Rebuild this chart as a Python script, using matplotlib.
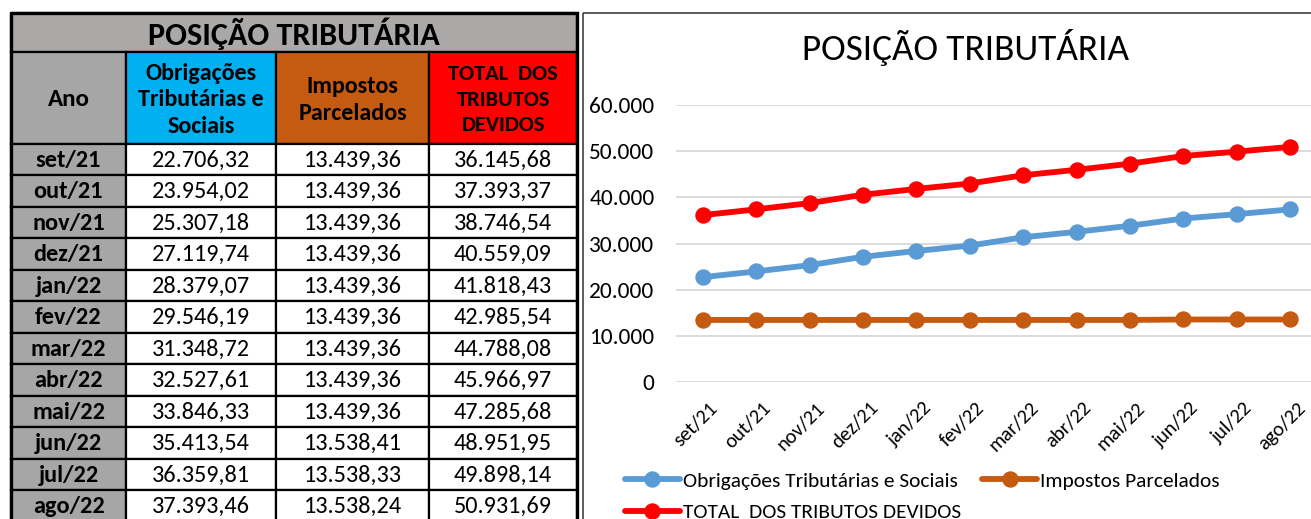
import matplotlib

matplotlib.use("Agg")
import matplotlib.pyplot as plt
from matplotlib import font_manager
from matplotlib.patches import Rectangle
from matplotlib.transforms import ScaledTranslation

MESES = ["set/21", "out/21", "nov/21", "dez/21", "jan/22", "fev/22",
         "mar/22", "abr/22", "mai/22", "jun/22", "jul/22", "ago/22"]
OBRIGACOES = [22706.32, 23954.02, 25307.18, 27119.74, 28379.07, 29546.19,
              31348.72, 32527.61, 33846.33, 35413.54, 36359.81, 37393.46]
PARCELADOS = [13439.36, 13439.36, 13439.36, 13439.36, 13439.36, 13439.36,
              13439.36, 13439.36, 13439.36, 13538.41, 13538.33, 13538.24]
TOTAL = [36145.68, 37393.37, 38746.54, 40559.09, 41818.43, 42985.54,
         44788.08, 45966.97, 47285.68, 48951.95, 49898.14, 50931.69]
Y_TICKS = [0, 10000, 20000, 30000, 40000, 50000, 60000]

TITULO = "POSIÇÃO TRIBUTÁRIA"
CABECALHO = ["Ano", "Obrigações\nTributárias e\nSociais", "Impostos\nParcelados",
             "TOTAL  DOS\nTRIBUTOS\nDEVIDOS"]
LEGENDA = ["Obrigações Tributárias e Sociais", "Impostos Parcelados",
           "TOTAL  DOS TRIBUTOS DEVIDOS"]

# Calibri-like font if there is one, otherwise Lato with smaller sizes
names = {f.name for f in font_manager.fontManager.ttflist}
FONT, SCALE = "Lato", 0.87
for cand, sc in [("Carlito", 1.0), ("Calibri", 1.0)]:
    if cand in names:
        FONT, SCALE = cand, sc
        break
plt.rcParams["font.family"] = [FONT, "DejaVu Sans"]


def br(v: float) -> str:
    s = f"{v:,.2f}"
    return s.replace(",", "X").replace(".", ",").replace("X", ".")


def fmt_axis(v: float, _pos=None) -> str:
    return f"{int(v):,}".replace(",", ".")


W, H = 1311, 519
fig = plt.figure(figsize=(W / 100, H / 100), dpi=100)

# ---- table (pixel coordinates) ----
bg = fig.add_axes([0, 0, 1, 1])
bg.set_xlim(0, W)
bg.set_ylim(H, 0)
bg.axis("off")

cols = [11, 126, 276, 429, 577]
head_colors = ["#A6A6A6", "#00B0F0", "#C55A11", "#FF0000"]
title_top, title_bot, head_bot = 13, 52, 143.5
row_h = 31.5

bg.add_patch(Rectangle((cols[0], title_top), cols[-1] - cols[0], title_bot - title_top,
                       facecolor="#ABA8A8", edgecolor="black", lw=1.6))
bg.text((cols[0] + cols[-1]) / 2, (title_top + title_bot) / 2 + 1, TITULO,
        ha="center", va="center", fontsize=23.2 * SCALE, fontweight="bold")

for j in range(4):
    x0, x1 = cols[j], cols[j + 1]
    bg.add_patch(Rectangle((x0, title_bot), x1 - x0, head_bot - title_bot,
                           facecolor=head_colors[j], edgecolor="black", lw=1.6))
    size = [18, 17.3, 17.3, 16][j]
    bg.text((x0 + x1) / 2, (title_bot + head_bot) / 2 + 2, CABECALHO[j],
            ha="center", va="center", fontsize=size * SCALE, fontweight="bold",
            linespacing=1.33)

for i, mes in enumerate(MESES):
    y0 = head_bot + i * row_h
    values = [mes, br(OBRIGACOES[i]), br(PARCELADOS[i]), br(TOTAL[i])]
    for j in range(4):
        x0, x1 = cols[j], cols[j + 1]
        bg.add_patch(Rectangle((x0, y0), x1 - x0, row_h,
                               facecolor="#A6A6A6" if j == 0 else "white",
                               edgecolor="black", lw=1.6))
        bg.text((x0 + x1) / 2, y0 + row_h / 2 + 1, values[j], ha="center", va="center",
                fontsize=17.5 * SCALE, fontweight="bold" if j == 0 else "normal")

bg.add_patch(Rectangle((cols[0], title_top), cols[-1] - cols[0], H + 10 - title_top,
                       facecolor="none", edgecolor="black", lw=2.4))

# chart frame
bg.add_patch(Rectangle((583, 13), W + 20 - 583, H + 20 - 13,
                       facecolor="none", edgecolor="#404040", lw=1.2))
fig.text(966 / W, 1 - 48 / H, TITULO, ha="center", va="center",
         fontsize=26.8 * SCALE, color="black")

# ---- line chart ----
left, right = 676, 1317
bottom, top = 382, 105
ax = fig.add_axes([left / W, 1 - bottom / H, (right - left) / W, (bottom - top) / H])
ax.patch.set_alpha(0)
x = list(range(len(MESES)))
style = dict(lw=4.2, marker="o", markersize=10.8, solid_capstyle="round")
l1, = ax.plot(x, OBRIGACOES, color="#5B9BD5", **style)
l2, = ax.plot(x, PARCELADOS, color="#C55A11", **style)
l3, = ax.plot(x, TOTAL, color="#FF0000", **style)

ax.set_xlim(-0.5, len(MESES) - 0.5)
ax.set_ylim(0, 60000)
ax.set_yticks(Y_TICKS)
ax.yaxis.set_major_formatter(plt.FuncFormatter(fmt_axis))
ax.grid(axis="y", color="#D9D9D9", lw=1.3)
ax.set_axisbelow(True)
for sp in ax.spines.values():
    sp.set_visible(False)
ax.tick_params(axis="y", length=0, pad=15.5, labelsize=16.8 * SCALE)
ax.tick_params(axis="x", length=0, pad=0, labelsize=14.8 * SCALE)
ax.set_xticks(x)
ax.set_xticklabels(MESES, rotation=45, ha="right", va="top", rotation_mode="anchor")
shift = ScaledTranslation(6 / 100, -17 / 100, fig.dpi_scale_trans)
for lbl in ax.get_xticklabels():
    lbl.set_transform(lbl.get_transform() + shift)

# column-wise fill: first column gets l1 and l3, second gets l2
fig.legend([l1, l3, l2], [LEGENDA[0], LEGENDA[2], LEGENDA[1]], loc="upper left",
           bbox_to_anchor=(625 / W, 1 - 472 / H), ncol=2, frameon=False,
           fontsize=15.4 * SCALE, handlelength=2.55, handletextpad=0.15,
           columnspacing=1.0, borderpad=0, borderaxespad=0, labelspacing=0.62,
           numpoints=1)

fig.savefig("out.png", dpi=100)
